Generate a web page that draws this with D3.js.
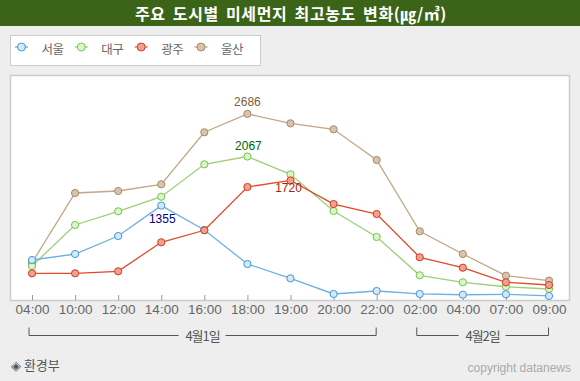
<!DOCTYPE html>
<html><head><meta charset="utf-8">
<script src="https://cdn.jsdelivr.net/npm/d3@7"></script>
<style>
html,body{margin:0;padding:0;background:#eeeeee;}
svg{display:block;}
</style></head>
<body>
<svg id="chart" width="580" height="381"></svg>
<script>
// ---- data ----
const title = "주요 도시별 미세먼지 최고농도 변화(㎍/㎥)";
const times = ["04:00","10:00","12:00","14:00","16:00","18:00","19:00","20:00","22:00","02:00","04:00","07:00","09:00"];
const seriesNames = ["서울","대구","광주","울산"];
const seoul =   [566, 653, 914, 1355, 1001, 508, 300, 73, 116, 73, 62, 68, 44];
const daegu =   [479, 1074, 1272, 1484, 1954, 2067, 1809, 1277, 900, 344, 242, 178, 145];
const gwangju = [373, 373, 402, 823, 997, 1625, 1720, 1378, 1233, 605, 454, 242, 203];
const ulsan =   [527, 1538, 1567, 1664, 2419, 2686, 2549, 2462, 2017, 982, 653, 338, 266];
const dateGroups = [{label:"4월1일", from:0, to:8},{label:"4월2일", from:9, to:12}];
const peakLabels = [{name:"울산", i:5},{name:"대구", i:5},{name:"서울", i:3},{name:"광주", i:6}];
const source = "◈ 환경부";
const copyright = "copyright datanews";

// ---- styles ----
const style = {
  "서울": {line:"#6ab2e2", stroke:"#3f98d4", fill:"#d4e8f8", label:"#000080", dy:17.5, dx:1},
  "대구": {line:"#9ccf78", stroke:"#7cbf52", fill:"#d6f7c6", label:"#006400", dy:-6.5, dx:1},
  "광주": {line:"#e04a2a", stroke:"#d63a1c", fill:"#f0a08e", label:"#a02810", dy:12, dx:-2},
  "울산": {line:"#c2a686", stroke:"#a88866", fill:"#d8c4ae", label:"#7a6040", dy:-7.5, dx:0}
};
const valuesBy = {"서울":seoul,"대구":daegu,"광주":gwangju,"울산":ulsan};
const drawOrder = ["울산","대구","서울","광주"];

const svg = d3.select("#chart");

// title bar
svg.append("rect").attr("x",0).attr("y",0).attr("width",580).attr("height",26).attr("fill","#3b6419");
svg.append("text").attr("x",291).attr("y",19.5).attr("text-anchor","middle")
  .attr("font-family","'Noto Sans CJK KR','Noto Sans',sans-serif").attr("font-size",16).attr("font-weight","bold")
  .attr("word-spacing",3).attr("letter-spacing",0.6).attr("fill","#ffffff").text(title);

// legend
const lg = svg.append("g");
lg.append("rect").attr("x",10.5).attr("y",35.5).attr("width",250).attr("height",30).attr("fill","#fff").attr("stroke","#cccccc");
const legendX = d3.scalePoint().domain(seriesNames).range([21.5, 201]);
seriesNames.forEach(n=>{
  const cx = legendX(n), s = style[n];
  lg.append("line").attr("x1",cx-6.5).attr("x2",cx+6.5).attr("y1",47).attr("y2",47).attr("stroke",s.stroke).attr("stroke-width",1);
  lg.append("circle").attr("cx",cx).attr("cy",47).attr("r",4).attr("fill",s.fill).attr("stroke",s.stroke);
  lg.append("text").attr("x",cx+20).attr("y",54).attr("font-family","'Noto Sans CJK KR',sans-serif")
    .attr("font-size",12.5).attr("letter-spacing",-0.5).attr("fill","#666").text(n);
});

// plot area
const plot = {left:10, right:570, top:75, bottom:300};
svg.append("rect").attr("x",plot.left+0.5).attr("y",plot.top+0.5).attr("width",plot.right-plot.left-1).attr("height",plot.bottom-plot.top)
  .attr("fill","#fff").attr("stroke","#cccccc").attr("stroke-width",1.5);

const idx = d3.range(times.length);
const x = d3.scalePoint().domain(idx).range([32, 549]);
const y = d3.scaleLinear().domain([0, 3250]).range([299, 75]);

// axis
const axis = d3.axisBottom(x).tickSizeInner(-5).tickSizeOuter(0).tickPadding(4).tickFormat(i=>times[i]);
const ax = svg.append("g").attr("transform",`translate(0,${plot.bottom})`).call(axis);
ax.select(".domain").remove();
ax.selectAll(".tick line").attr("stroke","#999");
ax.selectAll(".tick text").attr("fill","#666").attr("font-family","'Liberation Sans Narrow',sans-serif").attr("font-size",13.5);

// lines
const lineGen = d3.line().x((d,i)=>x(i)).y(d=>y(d));
drawOrder.forEach(n=>{
  svg.append("path").datum(valuesBy[n]).attr("d",lineGen).attr("fill","none")
    .attr("stroke",style[n].line).attr("stroke-width",1.3);
});
drawOrder.forEach(n=>{
  svg.append("g").selectAll("circle").data(valuesBy[n]).join("circle")
    .attr("cx",(d,i)=>x(i)).attr("cy",d=>y(d)).attr("r",3.6)
    .attr("fill",style[n].fill).attr("stroke",style[n].stroke).attr("stroke-width",1);
});

// peak labels
peakLabels.forEach(p=>{
  const v = valuesBy[p.name][p.i], s = style[p.name];
  svg.append("text").attr("x",x(p.i)+s.dx).attr("y",y(v)+s.dy).attr("text-anchor","middle")
    .attr("font-family","'Liberation Sans',Arial,sans-serif").attr("font-size",12).attr("fill",s.label).text(v);
});

// date brackets
dateGroups.forEach(g=>{
  const x1 = x(g.from)-3, x2 = x(g.to)-0.5, yb = 335.5, mid=(x1+x2)/2;
  const gg = svg.append("g").attr("stroke","#555").attr("stroke-width",1).attr("fill","none");
  gg.append("path").attr("d",`M${x1},${yb-8}V${yb}H${mid-24}`);
  gg.append("path").attr("d",`M${mid+23},${yb}H${x2}V${yb-8}`);
  svg.append("text").attr("x",mid).attr("y",yb+5).attr("text-anchor","middle")
    .attr("font-family","'Noto Sans CJK KR',sans-serif").attr("font-size",13).attr("letter-spacing",-1)
    .attr("fill","#555").text(g.label);
});

// footer
svg.append("text").attr("x",11).attr("y",370).attr("font-family","'Noto Sans CJK KR',sans-serif")
  .attr("font-size",13).attr("fill","#555").text(source);
svg.append("text").attr("x",571).attr("y",372).attr("text-anchor","end").attr("font-family","'Liberation Sans',Arial,sans-serif")
  .attr("font-size",12).attr("fill","#aaaaaa").text(copyright);
</script>
</body></html>
